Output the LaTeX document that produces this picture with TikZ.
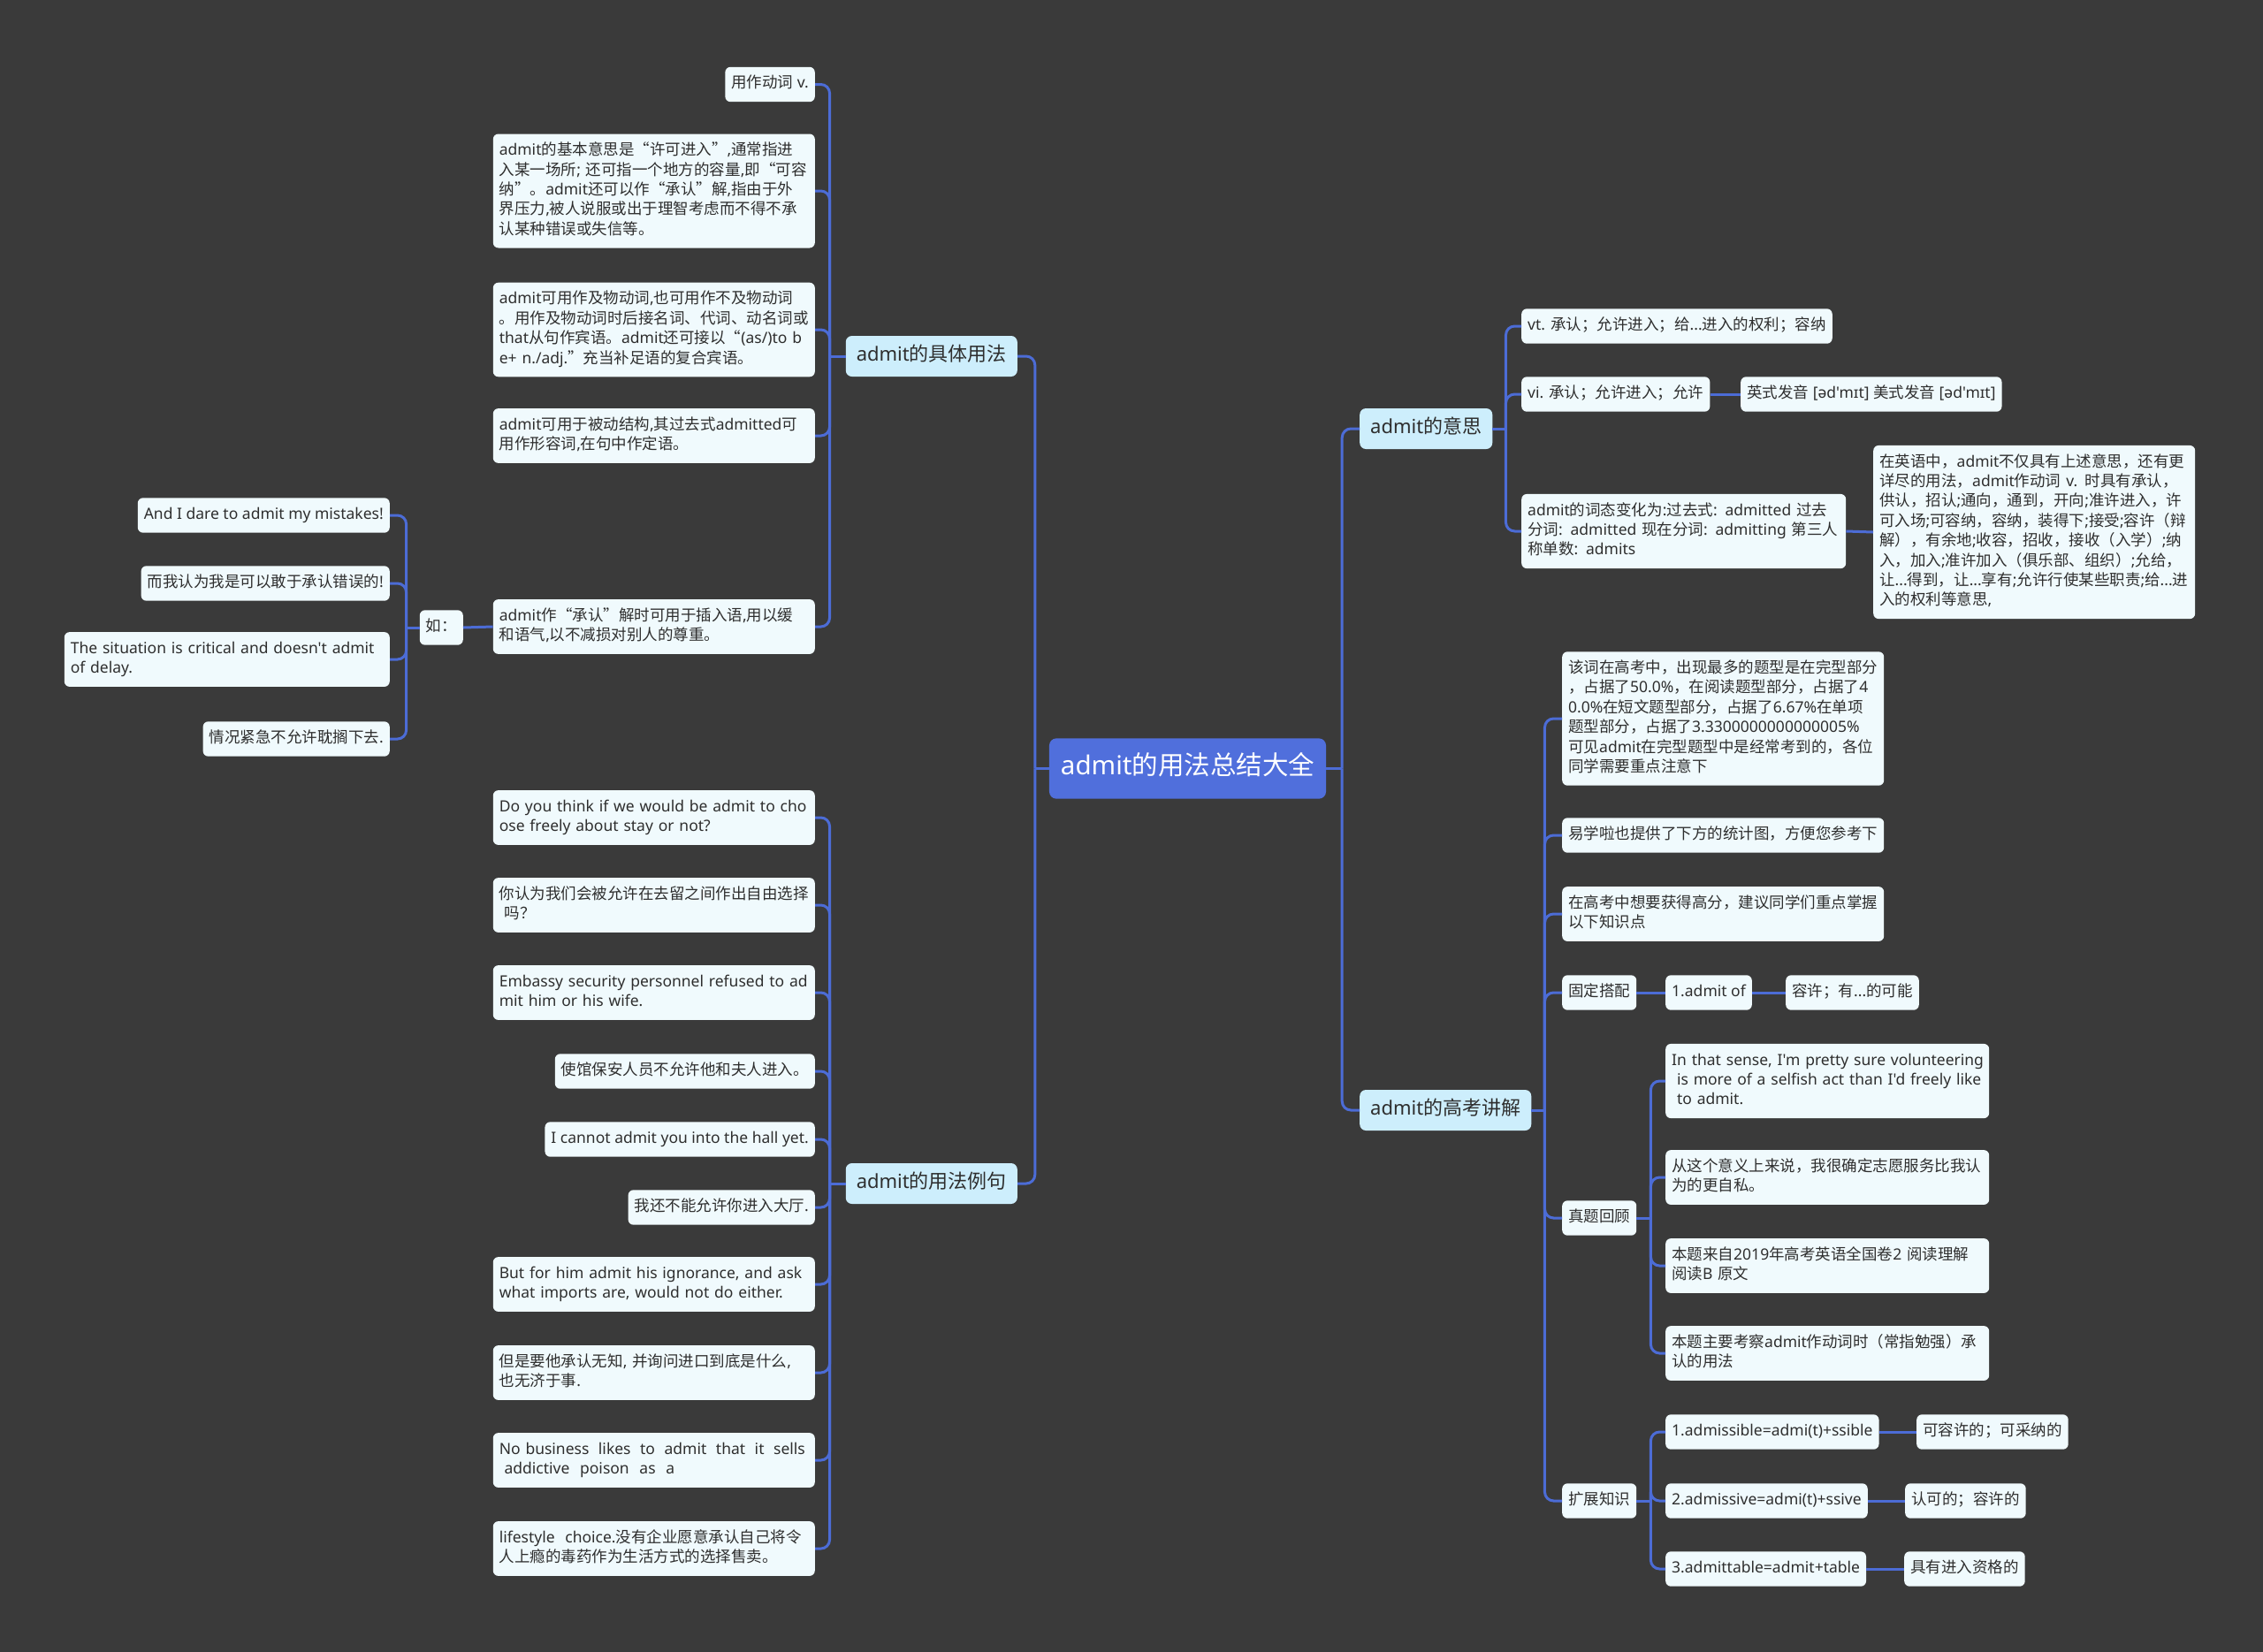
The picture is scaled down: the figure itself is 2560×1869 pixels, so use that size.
\documentclass[tikz,border=0pt]{standalone}
\usepackage{fontspec}
\setmainfont{Noto Sans}
\newfontfamily\latfont{Noto Sans}
\newfontfamily\cjkfont{Noto Sans CJK SC}
\usetikzlibrary{calc}
\XeTeXinterchartokenstate=1
\chardef\cjkclass=7
\newcount\cjkcnt
\newcommand\setcjkrange[2]{\cjkcnt=#1\relax
  \loop\XeTeXcharclass\cjkcnt=\cjkclass
  \ifnum\cjkcnt<#2\relax\advance\cjkcnt by 1\repeat}
\setcjkrange{"4E00}{"9FFF}
\setcjkrange{"3000}{"303F}
\setcjkrange{"FF00}{"FFEF}
\setcjkrange{"2018}{"201F}
\XeTeXinterchartoks 0 \cjkclass = {\cjkfont}
\XeTeXinterchartoks 4095 \cjkclass = {\cjkfont}
\XeTeXinterchartoks \cjkclass 0 = {\latfont}
\XeTeXinterchartoks \cjkclass 4095 = {\latfont}
\definecolor{bgc}{HTML}{3A3A3A}
\definecolor{leafc}{HTML}{F0FAFD}
\definecolor{hubc}{HTML}{CDEEFC}
\definecolor{rootc}{HTML}{506FDC}
\definecolor{linec}{HTML}{4C6CD6}
\definecolor{txtc}{HTML}{2E2E2E}
\begin{document}
\begin{tikzpicture}[x=1pt,y=-1pt,
  leaf/.style={fill=leafc, rounded corners=6pt, inner xsep=7pt, inner ysep=8.5pt,
    font=\latfont\fontsize{17.5}{22.4}\selectfont, text=txtc, align=left,
    execute at begin node=\strut, execute at end node=\strut},
  wide/.style={leaf, text width=350pt},
  hub/.style={fill=hubc, rounded corners=7pt, inner xsep=12pt, inner ysep=9pt,
    font=\latfont\fontsize{22}{28}\selectfont, text=txtc,
    execute at begin node=\strut, execute at end node=\strut},
  root/.style={fill=rootc, rounded corners=8pt, inner xsep=13pt, inner ysep=16.5pt,
    font=\latfont\fontsize{29.5}{34}\selectfont, text=white,
    execute at begin node=\strut, execute at end node=\strut},
  conn/.style={draw=linec, line width=3pt},
  rc/.style={rounded corners=10pt}]
\fill[bgc] (0,0) rectangle (2560,1869);
\useasboundingbox (0,0) rectangle (2560,1869);

% main nodes
\node[root] (root) at (1343.5,869.5) {admit的用法总结大全};
\node[hub,anchor=east] (hA) at (1151,403) {admit的具体用法};
\node[hub,anchor=east] (hB) at (1151,1339) {admit的用法例句};
\node[hub,anchor=west] (hC) at (1538,485) {admit的意思};
\node[hub,anchor=west] (hD) at (1538,1256) {admit的高考讲解};

% 具体用法
\node[leaf,anchor=east] (a1) at (922,95.5) {用作动词 v.};
\node[wide,anchor=east] (a2) at (922,216) {admit的基本意思是“许可进入”,通常指进\\入某一场所; 还可指一个地方的容量,即“可容\\纳”。admit还可以作“承认”解,指由于外\\界压力,被人说服或出于理智考虑而不得不承\\认某种错误或失信等。};
\node[wide,anchor=east] (a3) at (922,373) {admit可用作及物动词,也可用作不及物动词\\。用作及物动词时后接名词、代词、动名词或\\that从句作宾语。admit还可接以“(as/)to b\\e+ n./adj.”充当补足语的复合宾语。};
\node[wide,anchor=east] (a4) at (922,493) {admit可用于被动结构,其过去式admitted可\\用作形容词,在句中作定语。};
\node[wide,anchor=east] (a5) at (922,709) {admit作“承认”解时可用于插入语,用以缓\\和语气,以不减损对别人的尊重。};
\node[leaf,anchor=east] (ru) at (524,710) {如：};
\node[leaf,anchor=east] (r1) at (441,583) {And I dare to admit my mistakes!};
\node[leaf,anchor=east] (r2) at (441,660) {而我认为我是可以敢于承认错误的!};
\node[leaf,anchor=east,text width=354pt] (r3) at (441,746) {The situation is critical and doesn't admit\\of delay.};
\node[leaf,anchor=east] (r4) at (441,836) {情况紧急不允许耽搁下去.};

% 用法例句
\node[wide,anchor=east] (b1) at (922,925) {Do you think if we would be admit to cho\\ose freely about stay or not?};
\node[wide,anchor=east] (b2) at (922,1024) {你认为我们会被允许在去留之间作出自由选择\\\ 吗？};
\node[wide,anchor=east] (b3) at (922,1123) {Embassy security personnel refused to ad\\mit him or his wife.};
\node[leaf,anchor=east] (b4) at (922,1212) {使馆保安人员不允许他和夫人进入。};
\node[leaf,anchor=east] (b5) at (922,1289) {I cannot admit you into the hall yet.};
\node[leaf,anchor=east] (b6) at (922,1366) {我还不能允许你进入大厅.};
\node[wide,anchor=east] (b7) at (922,1453) {But for him admit his ignorance, and ask\\what imports are, would not do either.};
\node[wide,anchor=east] (b8) at (922,1553) {但是要他承认无知, 并询问进口到底是什么,\\也无济于事.};
\node[wide,anchor=east] (b9) at (922,1652) {\makebox[346pt][l]{No business\hfill likes\hfill to\hfill admit\hfill that\hfill it\hfill sells}\\\ addictive\ \ poison\ \ as\ \ a};
\node[wide,anchor=east] (b10) at (922,1752) {lifestyle\ \ choice.没有企业愿意承认自己将令\\人上瘾的毒药作为生活方式的选择售卖。};

% 意思
\node[leaf,anchor=west] (c1) at (1721,369) {vt. 承认；允许进入；给...进入的权利；容纳};
\node[leaf,anchor=west] (c2) at (1721,446) {vi. 承认；允许进入；允许};
\node[leaf,anchor=west] (c2b) at (1969,446) {英式发音 [əd'mɪt] 美式发音 [əd'mɪt]};
\node[leaf,anchor=west,text width=353pt] (c3) at (1721,601) {admit的词态变化为:过去式: admitted 过去\\分词: admitted 现在分词: admitting 第三人\\称单数: admits};
\node[wide,anchor=west] (c3b) at (2119,602) {在英语中，admit不仅具有上述意思，还有更\\详尽的用法，admit作动词 v. 时具有承认，\\供认，招认;通向，通到，开向;准许进入，许\\可入场;可容纳，容纳，装得下;接受;容许（辩\\解），有余地;收容，招收，接收（入学）;纳\\入，加入;准许加入（俱乐部、组织）;允给，\\让...得到，让...享有;允许行使某些职责;给...进\\入的权利等意思,};

% 高考讲解
\node[wide,anchor=west] (d1) at (1767,813) {该词在高考中，出现最多的题型是在完型部分\\，占据了50.0\%，在阅读题型部分，占据了4\\0.0\%在短文题型部分，占据了6.67\%在单项\\题型部分，占据了3.3300000000000005\%\\可见admit在完型题型中是经常考到的，各位\\同学需要重点注意下};
\node[leaf,anchor=west] (d2) at (1767,945) {易学啦也提供了下方的统计图，方便您参考下};
\node[wide,anchor=west] (d3) at (1767,1034) {在高考中想要获得高分，建议同学们重点掌握\\以下知识点};
\node[leaf,anchor=west] (d4) at (1767,1123) {固定搭配};
\node[leaf,anchor=west] (d4b) at (1884,1123) {1.admit of};
\node[leaf,anchor=west] (d4c) at (2020,1123) {容许；有...的可能};
\node[leaf,anchor=west] (zt) at (1767,1378) {真题回顾};
\node[leaf,anchor=west,text width=352pt] (z1) at (1884,1223) {\mbox{In that sense, I'm pretty sure volunteering}\\\ is more of a selfish act than I'd freely like\\\ to admit.};
\node[leaf,anchor=west,text width=352pt] (z2) at (1884,1332) {从这个意义上来说，我很确定志愿服务比我认\\为的更自私。};
\node[leaf,anchor=west,text width=352pt] (z3) at (1884,1432) {本题来自2019年高考英语全国卷2 阅读理解\\阅读B 原文};
\node[leaf,anchor=west,text width=352pt] (z4) at (1884,1531) {本题主要考察admit作动词时（常指勉强）承\\认的用法};
\node[leaf,anchor=west] (kz) at (1767,1698) {扩展知识};
\node[leaf,anchor=west] (k1) at (1884,1620) {1.admissible=admi(t)+ssible};
\node[leaf,anchor=west] (k1b) at (2168,1620) {可容许的；可采纳的};
\node[leaf,anchor=west] (k2) at (1884,1698) {2.admissive=admi(t)+ssive};
\node[leaf,anchor=west] (k2b) at (2155,1698) {认可的；容许的};
\node[leaf,anchor=west] (k3) at (1884,1775) {3.admittable=admit+table};
\node[leaf,anchor=west] (k3b) at (2154,1775) {具有进入资格的};

% junction coordinates
\coordinate (jL) at ($(root.west)+(-16,0)$);
\coordinate (jR) at ($(root.east)+(18,0)$);
\coordinate (jA) at ($(hA.west)+(-18,0)$);
\coordinate (jB) at ($(hB.west)+(-18,0)$);
\coordinate (jC) at ($(hC.east)+(15,0)$);
\coordinate (jD) at ($(hD.east)+(15,0)$);
\coordinate (jRu) at ($(ru.west)+(-15,0)$);
\coordinate (jZ) at ($(zt.east)+(16,0)$);
\coordinate (jK) at ($(kz.east)+(16,0)$);

% connectors
\draw[conn] (root.west) -- (jL);
\draw[conn] (root.east) -- (jR);
\foreach \c in {hA,hB} \draw[conn,rc] (jL) |- (\c.east);
\foreach \c in {hC,hD} \draw[conn,rc] (jR) |- (\c.west);

\draw[conn] (hA.west) -- (jA);
\foreach \c in {a1,a2,a3,a4,a5} \draw[conn,rc] (jA) |- (\c.east);
\draw[conn] (a5.west) -- (ru.east);
\draw[conn] (ru.west) -- (jRu);
\foreach \c in {r1,r2,r3,r4} \draw[conn,rc] (jRu) |- (\c.east);

\draw[conn] (hB.west) -- (jB);
\foreach \c in {b1,b2,b3,b4,b5,b6,b7,b8,b9,b10} \draw[conn,rc] (jB) |- (\c.east);

\draw[conn] (hC.east) -- (jC);
\foreach \c in {c1,c2,c3} \draw[conn,rc] (jC) |- (\c.west);
\draw[conn] (c2.east) -- (c2b.west);
\draw[conn] (c3.east) -- (c3b.west);

\draw[conn] (hD.east) -- (jD);
\foreach \c in {d1,d2,d3,d4,zt,kz} \draw[conn,rc] (jD) |- (\c.west);
\draw[conn] (d4.east) -- (d4b.west);
\draw[conn] (d4b.east) -- (d4c.west);

\draw[conn] (zt.east) -- (jZ);
\foreach \c in {z1,z2,z3,z4} \draw[conn,rc] (jZ) |- (\c.west);

\draw[conn] (kz.east) -- (jK);
\foreach \c in {k1,k2,k3} \draw[conn,rc] (jK) |- (\c.west);
\draw[conn] (k1.east) -- (k1b.west);
\draw[conn] (k2.east) -- (k2b.west);
\draw[conn] (k3.east) -- (k3b.west);
\end{tikzpicture}
\end{document}
